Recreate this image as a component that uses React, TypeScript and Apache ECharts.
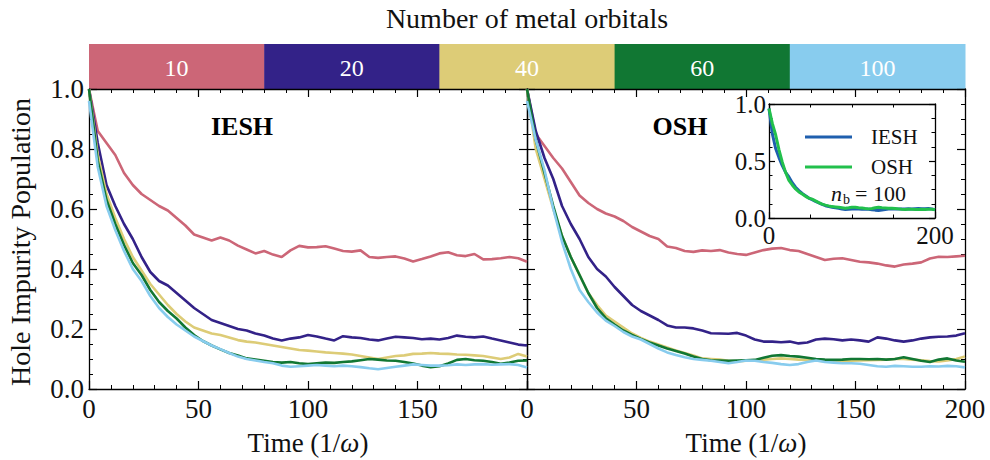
import React, { useEffect, useRef } from "react";
import * as echarts from "echarts";

// ---------------- data ----------------
const TIME = [0, 4, 8, 12, 16, 20, 24, 28, 32, 36, 40, 44, 48, 52, 56, 60, 64, 68, 72, 76, 80, 84, 88, 92, 96, 100, 104, 108, 112, 116, 120, 124, 128, 132, 136, 140, 144, 148, 152, 156, 160, 164, 168, 172, 176, 180, 184, 188, 192, 196, 200];

const ORBITALS = ["10", "20", "40", "60", "100"];
const COLORS = ["#CC6677", "#332288", "#DDCC77", "#117733", "#88CCEE"];

const IESH_10 = [1.0, 0.86, 0.82, 0.78, 0.72, 0.68, 0.65, 0.63, 0.61, 0.595, 0.57, 0.545, 0.515, 0.505, 0.495, 0.505, 0.495, 0.478, 0.465, 0.452, 0.46, 0.448, 0.44, 0.462, 0.477, 0.472, 0.473, 0.476, 0.468, 0.46, 0.458, 0.462, 0.44, 0.437, 0.44, 0.442, 0.435, 0.425, 0.433, 0.442, 0.452, 0.456, 0.446, 0.443, 0.45, 0.432, 0.433, 0.436, 0.44, 0.436, 0.424];
const IESH_20 = [1.0, 0.82, 0.68, 0.61, 0.55, 0.5, 0.44, 0.39, 0.36, 0.345, 0.32, 0.295, 0.27, 0.25, 0.23, 0.22, 0.21, 0.2, 0.195, 0.185, 0.178, 0.168, 0.162, 0.168, 0.172, 0.18, 0.175, 0.168, 0.162, 0.176, 0.172, 0.17, 0.165, 0.162, 0.168, 0.174, 0.172, 0.17, 0.166, 0.168, 0.165, 0.17, 0.178, 0.174, 0.172, 0.175, 0.168, 0.162, 0.155, 0.148, 0.145];
const IESH_40 = [1.0, 0.78, 0.65, 0.57, 0.5, 0.44, 0.395, 0.35, 0.315, 0.28, 0.25, 0.225, 0.205, 0.195, 0.185, 0.18, 0.172, 0.163, 0.158, 0.155, 0.15, 0.145, 0.14, 0.135, 0.13, 0.128, 0.125, 0.122, 0.12, 0.118, 0.115, 0.11, 0.105, 0.1, 0.105, 0.11, 0.112, 0.117, 0.118, 0.12, 0.118, 0.117, 0.115, 0.114, 0.112, 0.11, 0.105, 0.1, 0.105, 0.117, 0.108];
const IESH_60 = [1.0, 0.76, 0.63, 0.55, 0.48, 0.42, 0.38, 0.33, 0.29, 0.26, 0.235, 0.205, 0.18, 0.16, 0.145, 0.132, 0.12, 0.112, 0.102, 0.098, 0.094, 0.09, 0.088, 0.09, 0.086, 0.083, 0.086, 0.088, 0.087, 0.09, 0.092, 0.096, 0.1, 0.098, 0.095, 0.094, 0.09, 0.085, 0.078, 0.073, 0.076, 0.085, 0.097, 0.1, 0.096, 0.094, 0.09, 0.084, 0.088, 0.094, 0.095];
const IESH_100 = [0.96, 0.74, 0.61, 0.53, 0.46, 0.4, 0.36, 0.31, 0.27, 0.24, 0.215, 0.195, 0.175, 0.16, 0.145, 0.133, 0.12, 0.108, 0.1, 0.095, 0.09, 0.086, 0.078, 0.074, 0.076, 0.078, 0.08, 0.078, 0.076, 0.078, 0.076, 0.073, 0.069, 0.066, 0.07, 0.074, 0.078, 0.082, 0.08, 0.078, 0.078, 0.079, 0.082, 0.08, 0.082, 0.083, 0.081, 0.082, 0.083, 0.08, 0.072];

const OSH_10 = [1.0, 0.85, 0.81, 0.77, 0.735, 0.69, 0.645, 0.62, 0.6, 0.585, 0.575, 0.56, 0.54, 0.525, 0.51, 0.5, 0.475, 0.47, 0.46, 0.457, 0.462, 0.46, 0.463, 0.455, 0.45, 0.447, 0.455, 0.463, 0.468, 0.47, 0.463, 0.46, 0.45, 0.44, 0.43, 0.434, 0.436, 0.43, 0.424, 0.422, 0.418, 0.412, 0.408, 0.415, 0.418, 0.422, 0.435, 0.441, 0.44, 0.442, 0.444];
const OSH_20 = [1.0, 0.86, 0.77, 0.7, 0.61, 0.55, 0.5, 0.44, 0.4, 0.375, 0.34, 0.31, 0.28, 0.26, 0.245, 0.23, 0.212, 0.205, 0.205, 0.202, 0.195, 0.186, 0.185, 0.184, 0.187, 0.178, 0.165, 0.158, 0.158, 0.156, 0.158, 0.152, 0.155, 0.165, 0.168, 0.166, 0.162, 0.165, 0.162, 0.158, 0.172, 0.168, 0.162, 0.158, 0.162, 0.168, 0.172, 0.174, 0.175, 0.178, 0.186];
const OSH_40 = [1.0, 0.8, 0.7, 0.6, 0.51, 0.44, 0.38, 0.32, 0.28, 0.245, 0.225, 0.205, 0.185, 0.17, 0.158, 0.148, 0.138, 0.128, 0.12, 0.112, 0.102, 0.1, 0.098, 0.094, 0.092, 0.094, 0.095, 0.098, 0.1, 0.102, 0.1, 0.098, 0.097, 0.095, 0.093, 0.094, 0.095, 0.094, 0.095, 0.096, 0.097, 0.098, 0.1, 0.1, 0.098, 0.096, 0.093, 0.092, 0.095, 0.1, 0.108];
const OSH_60 = [1.0, 0.83, 0.72, 0.61, 0.51, 0.44, 0.38, 0.32, 0.27, 0.236, 0.215, 0.195, 0.18, 0.167, 0.155, 0.145, 0.135, 0.127, 0.118, 0.108, 0.1, 0.096, 0.095, 0.094, 0.095, 0.096, 0.097, 0.104, 0.111, 0.113, 0.11, 0.108, 0.104, 0.1, 0.098, 0.097, 0.098, 0.1, 0.1, 0.099, 0.1, 0.098, 0.1, 0.106, 0.1, 0.094, 0.09, 0.098, 0.102, 0.095, 0.091];
const OSH_100 = [0.96, 0.83, 0.73, 0.6, 0.49, 0.4, 0.33, 0.29, 0.255, 0.228, 0.21, 0.19, 0.175, 0.165, 0.15, 0.135, 0.122, 0.113, 0.106, 0.1, 0.097, 0.094, 0.09, 0.086, 0.09, 0.095, 0.094, 0.09, 0.087, 0.083, 0.08, 0.083, 0.09, 0.095, 0.09, 0.088, 0.086, 0.086, 0.084, 0.08, 0.076, 0.074, 0.077, 0.076, 0.074, 0.074, 0.076, 0.075, 0.077, 0.076, 0.072];

const IESH_SERIES = [IESH_10, IESH_20, IESH_40, IESH_60, IESH_100];
const OSH_SERIES = [OSH_10, OSH_20, OSH_40, OSH_60, OSH_100];

const INSET_NAMES = ["IESH", "OSH"];
const INSET_COLORS = ["#1f5fae", "#22c04c"];
const INSET_SERIES = [IESH_100, OSH_100];

const X_TICKS_MAIN = { min: 0, max: 200, interval: 50 };
const Y_TICKS_MAIN = { min: 0, max: 1, interval: 0.2 };

// ---------------- chart ----------------
const FONT = "'Liberation Serif', 'Times New Roman', serif";
const INK = "#111";

const pairs = (vals: number[]) => TIME.map((t, i) => [t, vals[i]]);

const axisLine = { show: true, onZero: false, lineStyle: { color: "#000", width: 1.3 } };
const tick = { show: true, inside: true, length: 8, lineStyle: { color: "#000", width: 1.2 } };
const labelStyle = { fontFamily: FONT, fontSize: 27, color: INK };
const insetLabelStyle = { fontFamily: FONT, fontSize: 25, color: INK };

function mkX(gridIndex: number, position: string, labels: boolean, hideMax: boolean) {
  return {
    type: "value", gridIndex, position, ...X_TICKS_MAIN,
    axisLine, axisTick: tick,
    minorTick: { show: true, splitNumber: 5, length: 4, lineStyle: { color: "#000", width: 1 } },
    splitLine: { show: false }, minorSplitLine: { show: false },
    axisLabel: { show: labels, showMaxLabel: !hideMax, margin: 6, ...labelStyle },
  };
}
function mkY(gridIndex: number, position: string, labels: boolean) {
  return {
    type: "value", gridIndex, position, ...Y_TICKS_MAIN,
    axisLine, axisTick: tick,
    minorTick: { show: true, splitNumber: 4, length: 4, lineStyle: { color: "#000", width: 1 } },
    splitLine: { show: false }, minorSplitLine: { show: false },
    axisLabel: { show: labels, margin: 5, formatter: (v: number) => v.toFixed(1), ...labelStyle },
  };
}
function mkInsetX(position: string, labels: boolean) {
  return {
    type: "value", gridIndex: 2, position, min: 0, max: 200, interval: 200,
    axisLine, axisTick: { ...tick, length: 6 },
    minorTick: { show: true, splitNumber: 4, length: 3.5, lineStyle: { color: "#000", width: 1 } },
    splitLine: { show: false },
    axisLabel: { show: labels, margin: 5, ...insetLabelStyle },
  };
}
function mkInsetY(position: string, labels: boolean) {
  return {
    type: "value", gridIndex: 2, position, min: 0, max: 1, interval: 0.5,
    axisLine, axisTick: { ...tick, length: 6 },
    minorTick: { show: true, splitNumber: 4, length: 3.5, lineStyle: { color: "#000", width: 1 } },
    splitLine: { show: false },
    axisLabel: { show: labels, margin: 3, formatter: (v: number) => v.toFixed(1), ...insetLabelStyle },
  };
}

function buildOption() {
  const barLeft = 89, barRight = 965, barTop = 44, barH = 45;
  const segW = (barRight - barLeft) / ORBITALS.length;
  const timeRich = { i: { fontStyle: "italic", fontFamily: FONT, fontSize: 27, fill: INK } };
  const graphic: any[] = [
    { type: "text", x: 527, y: 18, style: { text: "Number of metal orbitals", font: `28px ${FONT}`, fill: INK, align: "center", verticalAlign: "middle" } },
    { type: "text", x: 20, y: 242, rotation: Math.PI / 2, style: { text: "Hole Impurity Population", font: `28px ${FONT}`, fill: INK, align: "center", verticalAlign: "middle" } },
    { type: "text", x: 242, y: 126, style: { text: "IESH", font: `bold 26px ${FONT}`, fill: "#000", align: "center", verticalAlign: "middle" } },
    { type: "text", x: 680, y: 126, style: { text: "OSH", font: `bold 26px ${FONT}`, fill: "#000", align: "center", verticalAlign: "middle" } },
    { type: "text", x: 308, y: 443, style: { text: "Time (1/{i|ω})", font: `27px ${FONT}`, fill: INK, align: "center", verticalAlign: "middle", rich: timeRich } },
    { type: "text", x: 746, y: 443, style: { text: "Time (1/{i|ω})", font: `27px ${FONT}`, fill: INK, align: "center", verticalAlign: "middle", rich: timeRich } },
    { type: "text", x: 831, y: 193, z: 50, style: { text: "n", font: `italic 22px ${FONT}`, fill: INK, align: "left", verticalAlign: "middle" } },
    { type: "text", x: 843, y: 199, z: 50, style: { text: "b", font: `14px ${FONT}`, fill: INK, align: "left", verticalAlign: "middle" } },
    { type: "text", x: 855, y: 193, z: 50, style: { text: "= 100", font: `22px ${FONT}`, fill: INK, align: "left", verticalAlign: "middle" } },
  ];
  ORBITALS.forEach((lab, i) => {
    graphic.push({ type: "rect", shape: { x: barLeft + i * segW, y: barTop, width: segW + 0.5, height: barH }, style: { fill: COLORS[i] } });
    graphic.push({ type: "text", x: barLeft + (i + 0.5) * segW, y: barTop + barH / 2 + 1, style: { text: lab, font: `24px ${FONT}`, fill: "#fff", align: "center", verticalAlign: "middle" } });
  });

  const series: any[] = [];
  IESH_SERIES.forEach((vals, i) => series.push({
    type: "line", name: `IESH n=${ORBITALS[i]}`, xAxisIndex: 0, yAxisIndex: 0, data: pairs(vals),
    symbol: "none", lineStyle: { color: COLORS[i], width: 2.6 }, itemStyle: { color: COLORS[i] }, z: 2 + i,
  }));
  OSH_SERIES.forEach((vals, i) => series.push({
    type: "line", name: `OSH n=${ORBITALS[i]}`, xAxisIndex: 2, yAxisIndex: 2, data: pairs(vals),
    symbol: "none", lineStyle: { color: COLORS[i], width: 2.6 }, itemStyle: { color: COLORS[i] }, z: 2 + i,
  }));
  INSET_SERIES.forEach((vals, i) => series.push({
    type: "line", name: INSET_NAMES[i], xAxisIndex: 4, yAxisIndex: 4, data: pairs(vals),
    symbol: "none", lineStyle: { color: INSET_COLORS[i], width: 3 }, itemStyle: { color: INSET_COLORS[i] }, z: 10 + i,
  }));

  return {
    animation: false,
    backgroundColor: "#fff",
    grid: [
      { left: 89, top: 89, width: 438, height: 300 },
      { left: 527, top: 89, width: 438, height: 300 },
      { left: 769, top: 104, width: 166, height: 114 },
    ],
    xAxis: [
      mkX(0, "bottom", true, true), mkX(0, "top", false, false),
      mkX(1, "bottom", true, false), mkX(1, "top", false, false),
      mkInsetX("bottom", true), mkInsetX("top", false),
    ],
    yAxis: [
      mkY(0, "left", true), mkY(0, "right", false),
      mkY(1, "left", false), mkY(1, "right", false),
      mkInsetY("left", true), mkInsetY("right", false),
    ],
    legend: {
      data: INSET_NAMES, orient: "vertical", left: 800, top: 121, icon: "rect",
      itemWidth: 47, itemHeight: 3, itemGap: 8,
      textStyle: { fontFamily: FONT, fontSize: 21, lineHeight: 22, color: INK, padding: [0, 0, 0, 14] },
    },
    graphic,
    series,
  };
}

export default function App() {
  const ref = useRef<HTMLDivElement>(null);
  useEffect(() => {
    document.body.style.margin = "0";
    if (!ref.current) return;
    const chart = echarts.init(ref.current, undefined, { renderer: "svg" });
    chart.setOption(buildOption() as any);
    return () => chart.dispose();
  }, []);
  return <div ref={ref} style={{ width: 990, height: 460 }} />;
}
